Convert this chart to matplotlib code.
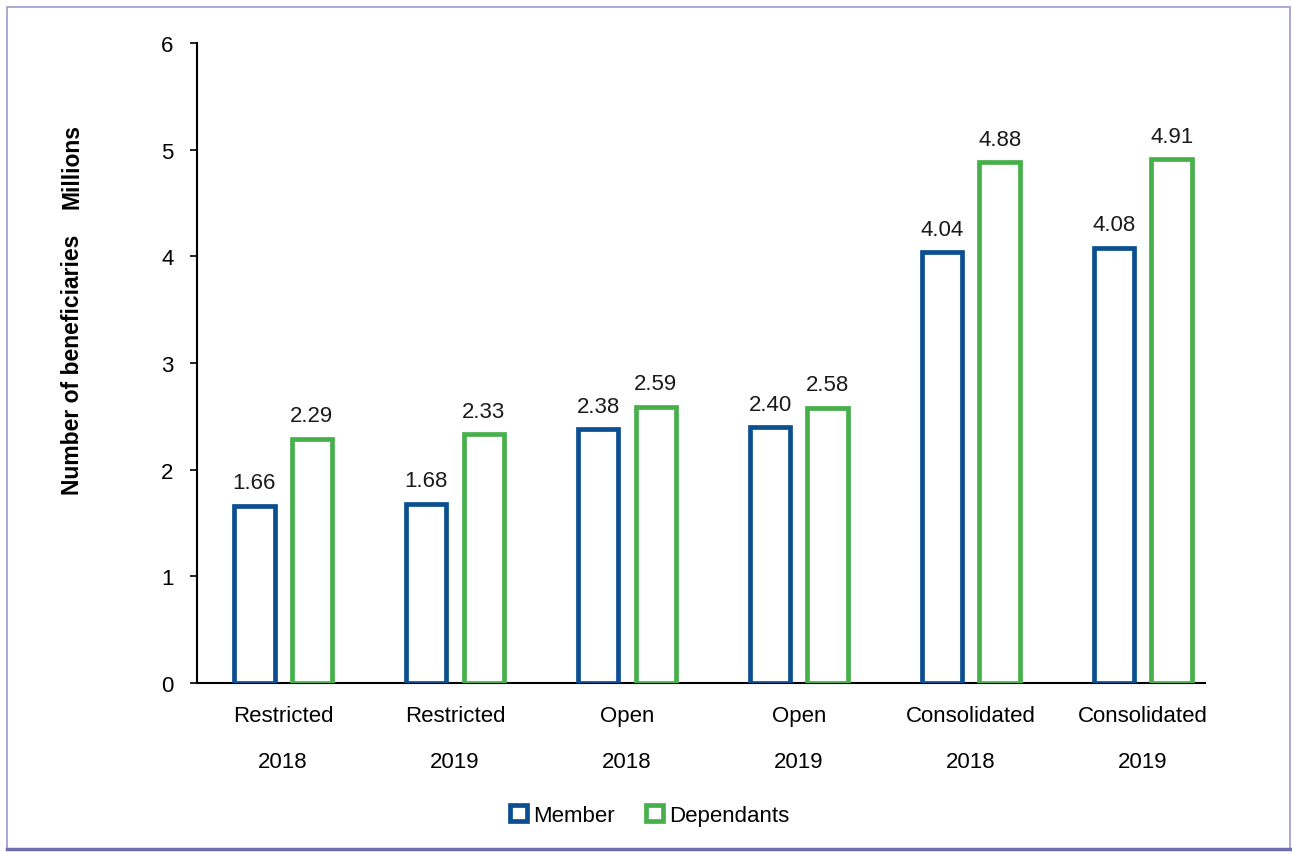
import matplotlib
matplotlib.use("Agg")
import matplotlib.pyplot as plt
from matplotlib.patches import Patch, Rectangle
import numpy as np

plt.rcParams['font.family'] = ['Liberation Sans', 'DejaVu Sans']
fs = 16

categories = ["Restricted\n2018", "Restricted\n2019", "Open\n2018", "Open\n2019",
              "Consolidated\n2018", "Consolidated\n2019"]
member = [1.66, 1.68, 2.38, 2.40, 4.04, 4.08]
dependants = [2.29, 2.33, 2.59, 2.58, 4.88, 4.91]
series_names = ["Member", "Dependants"]
colors = ["#0B4F91", "#47B04B"]

fig = plt.figure(figsize=(12.92, 8.53), dpi=100)
ax = fig.add_axes([0.1525, 0.1981, 0.7987, 0.7503])

x = np.arange(len(categories))
offset = 0.167
width = 0.235
lw = 3.4

for vals, dx, col in [(member, -offset, colors[0]), (dependants, offset, colors[1])]:
    bars = ax.bar(x + dx, vals, width, facecolor="white", edgecolor=col, linewidth=lw, zorder=3)
    for b, v in zip(bars, vals):
        ax.annotate(f"{v:.2f}", (b.get_x() + b.get_width() / 2, v),
                    xytext=(0, 9), textcoords="offset points",
                    ha="center", va="bottom", fontsize=fs, color="#1a1a1a")

ax.set_xlim(-0.5, 5.5)
ax.set_ylim(0, 6)
ax.set_yticks(range(7))
ax.set_xticks(x)
ax.set_xticklabels(categories, linespacing=2.55)

for s in ["top", "right"]:
    ax.spines[s].set_visible(False)
ax.spines["left"].set_linewidth(1.5)
ax.spines["bottom"].set_linewidth(1.5)
ax.spines["bottom"].set_bounds(-0.5, 5.36)
ax.tick_params(axis="y", direction="out", length=5, width=1.2, pad=12, labelsize=fs)
ax.tick_params(axis="x", length=0, pad=16, labelsize=fs)

fig.text(0.056, 0.572, "Number of beneficiaries", rotation=90, ha="center", va="center",
         fontsize=16.5, fontweight="bold")
fig.text(0.056, 0.805, "Millions", rotation=90, ha="center", va="center",
         fontsize=16.5, fontweight="bold")

handles = [Patch(facecolor="white", edgecolor=c, linewidth=3.4, label=n)
           for c, n in zip(colors, series_names)]
fig.legend(handles=handles, loc="center", bbox_to_anchor=(0.503, 0.043), ncol=2,
           frameon=False, fontsize=fs, handlelength=0.75, handleheight=0.75,
           handletextpad=0.3, columnspacing=1.4)

# outer frame
fig.patches.append(Rectangle((7 / 1292, 3 / 853), 1283 / 1292, 842 / 853,
                             transform=fig.transFigure, fill=False,
                             edgecolor="#9A9AD2", linewidth=1.2))
fig.add_artist(plt.Line2D([7 / 1292, 1290 / 1292], [3 / 853, 3 / 853],
                          transform=fig.transFigure, color="#6E6EB0", linewidth=2.5))

fig.savefig("out.png", dpi=100)
